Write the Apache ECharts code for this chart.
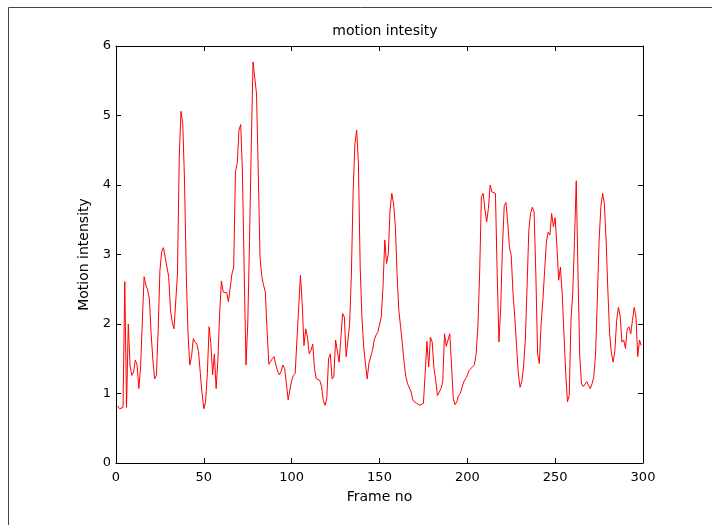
<!DOCTYPE html>
<html>
<head>
<meta charset="utf-8">
<script src="https://cdn.jsdelivr.net/npm/echarts@6/dist/echarts.min.js"></script>
<style>html,body{margin:0;padding:0;background:#fff;}#c{width:712px;height:525px;}</style>
</head>
<body>
<div id="c"></div>
<script>
var titleText = 'motion intesity';
var xName = 'Frame no';
var yName = 'Motion intensity';
var xTicks = [0, 50, 100, 150, 200, 250, 300];
var yTicks = [0, 1, 2, 3, 4, 5, 6];
var motion = [
 0.82, 0.78, 0.79, 0.80, 2.61, 0.80, 2.00, 1.40, 1.26, 1.31,
 1.48, 1.41, 1.07, 1.38, 2.05, 2.68, 2.56, 2.49, 2.36, 1.86,
 1.48, 1.21, 1.26, 1.91, 2.77, 3.04, 3.10, 3.10, 2.82, 2.68,
 2.20, 2.03, 1.93, 1.92, 2.72, 4.40, 5.06, 4.88, 4.07, 2.72,
 1.86, 1.41, 1.53, 1.79, 1.74, 1.71, 1.60, 1.29, 1.00, 0.78,
 0.88, 1.29, 1.96, 1.72, 1.27, 1.57, 1.07, 1.48, 2.15, 2.62,
 2.46, 2.45, 2.45, 2.32, 2.32, 2.72, 2.82, 4.19, 4.31, 4.79,
 4.87, 4.16, 2.72, 1.41, 2.00, 3.20, 4.55, 5.77, 5.77, 5.31,
 4.16, 2.96, 2.68, 2.56, 2.46, 1.91, 1.42, 1.42, 1.50, 1.53,
 1.41, 1.32, 1.27, 1.32, 1.41, 1.36, 1.14, 0.91, 1.05, 1.19,
 1.26, 1.29, 1.77, 2.24, 2.70, 2.29, 1.69, 1.93, 1.81, 1.57,
 1.62, 1.71, 1.36, 1.21, 1.20, 1.19, 1.10, 0.90, 0.83, 0.93,
 1.50, 1.57, 1.21, 1.24, 1.77, 1.77, 1.45, 1.45, 2.15, 2.10,
 1.53, 1.51, 2.00, 2.72, 3.92, 4.59, 4.79, 4.31, 2.82, 2.10,
 1.67, 1.43, 1.21, 1.44, 1.45, 1.62, 1.77, 1.84, 1.88, 1.86,
 2.10, 2.53, 3.21, 2.87, 3.01, 3.64, 3.88, 3.73, 3.42, 2.72,
 2.20, 1.96, 1.72, 1.45, 1.24, 1.14, 1.12, 1.02, 0.90, 0.88,
 0.86, 0.85, 0.83, 0.84, 0.86, 1.29, 1.75, 1.38, 1.81, 1.74,
 1.36, 1.19, 0.97, 0.97, 1.07, 1.17, 1.86, 1.68, 1.68, 1.86,
 1.41, 0.93, 0.84, 0.88, 0.97, 1.00, 1.09, 1.17, 1.21, 1.26,
 1.33, 1.36, 1.38, 1.41, 1.57, 1.96, 2.72, 3.83, 3.88, 3.65,
 3.47, 3.66, 4.00, 3.90, 3.88, 3.88, 2.72, 1.74, 2.24, 3.11,
 3.70, 3.75, 3.45, 3.10, 2.98, 2.44, 2.10, 1.69, 1.29, 1.09,
 1.17, 1.38, 1.77, 2.53, 3.35, 3.59, 3.68, 3.61, 2.72, 1.57,
 1.43, 2.00, 2.34, 2.77, 3.18, 3.32, 3.28, 3.59, 3.40, 3.53,
 3.11, 2.63, 2.82, 2.44, 1.86, 1.29, 0.88, 0.97, 2.05, 2.44,
 3.20, 4.06, 2.72, 1.53, 1.14, 1.10, 1.12, 1.17, 1.12, 1.07,
 1.14, 1.24, 1.57, 2.34, 3.20, 3.68, 3.88, 3.73, 3.20, 2.48,
 1.86, 1.58, 1.45, 1.62, 2.05, 2.24, 2.12, 1.74, 1.77, 1.65,
 1.93, 1.96, 1.86, 2.05, 2.24, 2.10, 1.53, 1.77, 1.69
];
var frames = motion.map(function (v, i) { return i + 1; });

var FONT = '"DejaVu Sans", Verdana, sans-serif';
var chart = echarts.init(document.getElementById('c'), null, {renderer: 'canvas'});
var axisLineStyle = {color: '#000', width: 1};
function baseX(pos, showLabel) {
  return {
    type: 'value', position: pos, min: xTicks[0], max: xTicks[xTicks.length - 1],
    interval: xTicks[1] - xTicks[0],
    axisLine: {show: true, onZero: false, lineStyle: axisLineStyle},
    axisTick: {show: true, inside: true, length: 5, lineStyle: {color: '#000'}},
    axisLabel: {show: showLabel, color: '#000', fontSize: 13, fontFamily: FONT, margin: 8},
    splitLine: {show: false}
  };
}
function baseY(pos, showLabel) {
  return {
    type: 'value', position: pos, min: yTicks[0], max: yTicks[yTicks.length - 1],
    interval: yTicks[1] - yTicks[0],
    axisLine: {show: true, onZero: false, lineStyle: axisLineStyle},
    axisTick: {show: true, inside: true, length: 5, lineStyle: {color: '#000'}},
    axisLabel: {show: showLabel, color: '#000', fontSize: 13, fontFamily: FONT, margin: 5},
    splitLine: {show: false}
  };
}
var xb = baseX('bottom', true);
xb.name = xName; xb.nameLocation = 'middle'; xb.nameGap = 27;
xb.nameTextStyle = {color: '#000', fontSize: 14, fontFamily: FONT};
var yl = baseY('left', true);
yl.name = yName; yl.nameLocation = 'middle'; yl.nameGap = 19; yl.nameRotate = 90;
yl.nameTextStyle = {color: '#000', fontSize: 14, fontFamily: FONT};

chart.setOption({
  animation: false,
  backgroundColor: '#fff',
  title: {
    text: titleText, left: 380, top: 19, textAlign: 'center',
    textStyle: {color: '#000', fontSize: 14, fontWeight: 'normal', fontFamily: FONT}
  },
  grid: {left: 116, right: 69, top: 46, bottom: 62, containLabel: false},
  xAxis: [xb, baseX('top', false)],
  yAxis: [yl, baseY('right', false)],
  graphic: [{
    type: 'polyline', silent: true,
    shape: {points: [[8.5, 525], [8.5, 7.5], [712, 7.5]]},
    style: {stroke: '#444', lineWidth: 1, fill: null}
  }],
  series: [{
    type: 'line', xAxisIndex: 0, yAxisIndex: 0,
    data: motion.map(function (v, i) { return [frames[i], v]; }),
    showSymbol: false, symbol: 'none',
    lineStyle: {color: '#ff0000', width: 1},
    itemStyle: {color: '#ff0000'}
  }]
});
</script>
</body>
</html>
